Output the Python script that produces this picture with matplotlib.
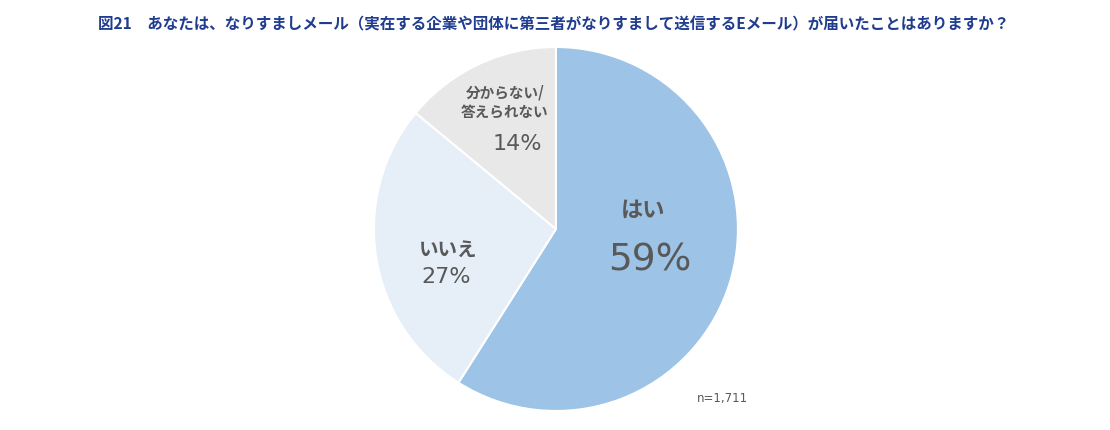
import matplotlib
matplotlib.use("Agg")
import matplotlib.pyplot as plt

plt.rcParams['font.family'] = ['Noto Sans CJK JP', 'DejaVu Sans']

# data
labels = ["はい", "いいえ", "分からない/\n答えられない"]
values = [59, 27, 14]
colors = ["#9dc3e6", "#e6eef8", "#e8e8e8"]
title = "図21　あなたは、なりすましメール（実在する企業や団体に第三者がなりすまして送信するEメール）が届いたことはありますか？"
note = "n=1,711"

fig = plt.figure(figsize=(11.1, 4.31), dpi=100)
ax = fig.add_axes([0.3369, 0.0441, 0.3279, 0.8445])

ax.pie(values, colors=colors, startangle=90, counterclock=False,
       wedgeprops=dict(edgecolor="white", linewidth=1.5))
ax.set_xlim(-1, 1)
ax.set_ylim(-1, 1)
ax.set_aspect("equal")
ax.axis("off")

txt = "#595959"
num_font = ['DejaVu Sans', 'Noto Sans CJK JP']
# はい
ax.text(0.478, 0.11, labels[0], ha="center", va="center", fontsize=16, color=txt, fontweight="bold")
ax.text(0.514, -0.165, f"{values[0]}%", ha="center", va="center", fontsize=27, color=txt, family=num_font)
# いいえ
ax.text(-0.593, -0.11, labels[1], ha="center", va="center", fontsize=14, color=txt, fontweight="bold")
ax.text(-0.604, -0.258, f"{values[1]}%", ha="center", va="center", fontsize=16, color=txt, family=num_font)
# 分からない
ax.text(-0.28, 0.703, labels[2], ha="center", va="center", fontsize=10.5, color=txt,
        fontweight="bold", linespacing=1.3)
ax.text(-0.214, 0.473, f"{values[2]}%", ha="center", va="center", fontsize=16, color=txt, family=num_font)

fig.text(98 / 1110, 1 - 24 / 431, title, ha="left", va="center", fontsize=11.2,
         color="#1f3c8f", fontweight="bold")
fig.text(722 / 1110, 1 - 399 / 431, note, ha="center", va="center", fontsize=8.5,
         color="#595959", family=num_font)

fig.savefig("out.png", dpi=100)
